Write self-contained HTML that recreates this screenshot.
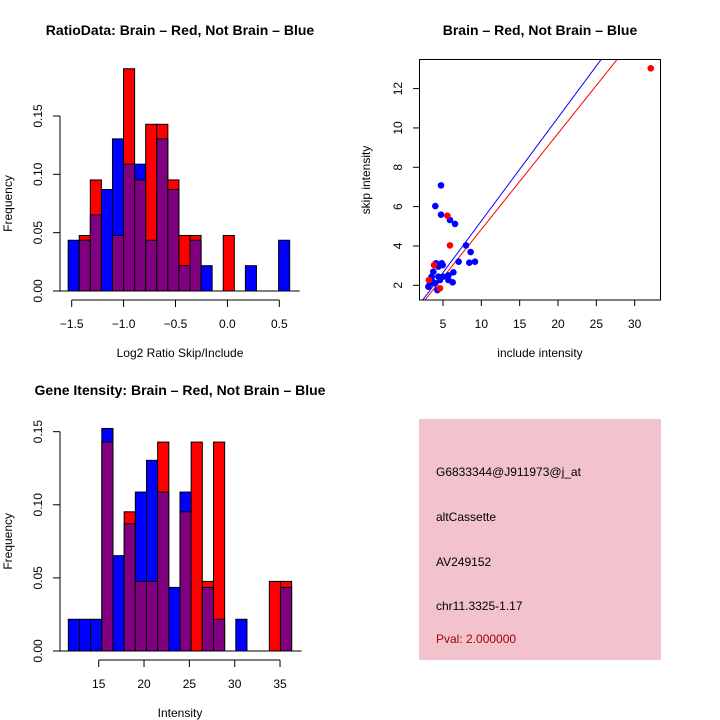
<!DOCTYPE html>
<html><head><meta charset="utf-8"><style>
body{margin:0;background:#fff}
svg{display:block;font-family:"Liberation Sans",sans-serif}
</style></head><body>
<svg id="s" width="720" height="720" xmlns="http://www.w3.org/2000/svg">
<rect width="720" height="720" fill="#fff"/>
<text x="180" y="35" font-size="14" font-weight="bold" text-anchor="middle">RatioData: Brain – Red, Not Brain – Blue</text>
<text x="540" y="35" font-size="14" font-weight="bold" text-anchor="middle">Brain – Red, Not Brain – Blue</text>
<text x="180" y="395" font-size="14" font-weight="bold" text-anchor="middle">Gene Itensity: Brain – Red, Not Brain – Blue</text>
<g id="g1"></g>
<g id="g2"></g>
<g id="g3"></g>
<g>
<rect x="419" y="419" width="242" height="241" fill="#f3c3cd"/>
<text x="436" y="476" font-size="12">G6833344@J911973@j_at</text>
<text x="436" y="521" font-size="12">altCassette</text>
<text x="436" y="566" font-size="12">AV249152</text>
<text x="436" y="610" font-size="12">chr11.3325-1.17</text>
<text x="436" y="643" font-size="12" fill="#a00000">Pval: 2.000000</text>
</g>
</svg>
<script>
const ratioRed=[0,0.0476,0.0952,0,0.0476,0.1905,0.0952,0.1429,0.1429,0.0952,0.0476,0.0476,0,0,0.0476,0,0,0,0,0];
const ratioBlue=[0.0435,0.0435,0.0652,0.087,0.1304,0.1087,0.1087,0.0435,0.1304,0.087,0.0217,0.0435,0.0217,0,0,0,0.0217,0,0,0.0435];
const ratioXTicks=[-1.5,-1.0,-0.5,0.0,0.5];
const ratioXLabels=["−1.5","−1.0","−0.5","0.0","0.5"];
const freqTicks=[0,0.05,0.10,0.15];
const freqLabels=["0.00","0.05","0.10","0.15"];
const intRed=[0,0,0,0.1429,0,0.0952,0.0476,0.0476,0.1429,0,0.0952,0.1429,0.0476,0.1429,0,0,0,0,0.0476,0.0476];
const intBlue=[0.0217,0.0217,0.0217,0.1522,0.0652,0.087,0.1087,0.1304,0.1087,0.0435,0.1087,0,0.0435,0.0217,0,0.0217,0,0,0,0.0435];
const intXTicks=[15,20,25,30,35];
const redX=[32.1,5.57,5.91,3.83,3.17,4.6];
const redY=[13.03,5.54,4.03,3.03,2.27,1.85];
const blueX=[4.74,4.0,4.74,5.91,6.57,8.0,8.6,7.04,8.43,9.17,6.35,6.26,5.7,5.7,3.09,3.52,3.74,4.09,4.83,4.4,4.96,4.26,4.6,3.96,3.3,4.4,5.0,3.52];
const blueY=[7.08,6.03,5.59,5.32,5.12,4.03,3.69,3.2,3.15,3.2,2.66,2.15,2.27,2.5,1.93,2.44,2.69,3.12,3.12,2.95,3.03,1.76,2.27,2.1,2.1,2.44,2.44,2.27];
const scXTicks=[5,10,15,20,25,30];
const scYTicks=[2,4,6,8,10,12];
const blueFit=[0.015,0.5255];
const redFit=[-0.04,0.488];
const NS="http://www.w3.org/2000/svg";
function mk(p,t,a){const e=document.createElementNS(NS,t);for(const k in a)e.setAttribute(k,a[k]);p.appendChild(e);return e;}
function hist(g,red,blue,x0,x1,xs,ys,xt,xl,yTop,xlabel,labelY){
  const n=red.length,w=(x1-x0)/n;
  for(let i=0;i<n;i++){
    const r=red[i],b=blue[i],a=x0+i*w;
    const hi=Math.max(r,b),lo=Math.min(r,b);
    if(hi>0){
      const e=mk(g,'rect',{x:xs(a),y:ys(hi),width:xs(a+w)-xs(a),height:ys(0)-ys(hi),fill:r>=b?'#ff0000':'#0000ff',stroke:'#000','stroke-width':1});
      
      
    }
    if(lo>0){
      const e=mk(g,'rect',{x:xs(a),y:ys(lo),width:xs(a+w)-xs(a),height:ys(0)-ys(lo),fill:'#800080',stroke:'#000','stroke-width':1});
      
      
    }
  }
  mk(g,'line',{x1:xs(x0)-15,x2:xs(x1)+10,y1:ys(0),y2:ys(0),stroke:'#000'});
  mk(g,'line',{x1:xs(xt[0]),x2:xs(xt[xt.length-1]),y1:labelY,y2:labelY,stroke:'#000'});
  xt.forEach((v,i)=>{mk(g,'line',{x1:xs(v),x2:xs(v),y1:labelY,y2:labelY+7,stroke:'#000'});
    const t=mk(g,'text',{x:xs(v),y:labelY+28,'font-size':12,'text-anchor':'middle'});t.textContent=xl[i];
    
    });
  mk(g,'line',{x1:60,x2:60,y1:ys(0),y2:ys(0.15),stroke:'#000'});
  freqTicks.forEach((v,i)=>{mk(g,'line',{x1:53,x2:60,y1:ys(v),y2:ys(v),stroke:'#000'});
    const t=mk(g,'text',{x:0,y:0,'font-size':12,'text-anchor':'middle',transform:'translate(42,'+ys(v)+') rotate(-90)'});t.textContent=freqLabels[i];
    
    });
  const yl=mk(g,'text',{'font-size':12,'text-anchor':'middle',transform:'translate(12,'+(ys(0)+ys(0.15))/2+') rotate(-90)'});yl.textContent='Frequency';
  
  
  const xL=mk(g,'text',{x:xlabel==='Intensity'?180:180,y:labelY+57,'font-size':12,'text-anchor':'middle'});xL.textContent=xlabel;
  
  
}
// ratio histogram
{const xs=v=>71.7+(v+1.5)*103.8, ys=v=>291-v*1166.7;
 hist(document.getElementById('g1'),ratioRed,ratioBlue,-1.534,0.6,xs,ys,ratioXTicks,ratioXLabels,0.15,'Log2 Ratio Skip/Include',300);}
// intensity histogram
{const xs=v=>98.7+(v-15)*9.067, ys=v=>651-v*1462.2;
 hist(document.getElementById('g3'),intRed,intBlue,11.65,36.28,xs,ys,intXTicks,intXTicks.map(String),0.15,'Intensity',660);}
// scatter
{const g=document.getElementById('g2');
 const xs=v=>443+(v-5)*7.667, ys=v=>285.3-(v-2)*19.67;
 mk(g,'defs',{}).innerHTML='<clipPath id="cp"><rect x="419.5" y="59.5" width="241" height="240.5"/></clipPath>';
 const cg=mk(g,'g',{'clip-path':'url(#cp)'});
 [[blueFit,'#0000ff'],[redFit,'#ff0000']].forEach(([f,c])=>{const xa=0,xb=40;
   const l=mk(cg,'line',{x1:xs(xa),y1:ys(f[0]+f[1]*xa),x2:xs(xb),y2:ys(f[0]+f[1]*xb),stroke:c,'stroke-width':1});
   
   });
 blueX.forEach((v,i)=>{const c=mk(cg,'circle',{cx:xs(v),cy:ys(blueY[i]),r:3.3,fill:'#0000ff'});
   
   });
 redX.forEach((v,i)=>{const c=mk(cg,'circle',{cx:xs(v),cy:ys(redY[i]),r:3.3,fill:'#ff0000'});
   
   });
 mk(g,'rect',{x:419.5,y:59.5,width:241,height:240.5,fill:'none',stroke:'#000'});
 scXTicks.forEach(v=>{mk(g,'line',{x1:xs(v),x2:xs(v),y1:300,y2:306,stroke:'#000'});
   const t=mk(g,'text',{x:xs(v),y:328,'font-size':12,'text-anchor':'middle'});t.textContent=v;
   
   });
 scYTicks.forEach(v=>{mk(g,'line',{x1:413,x2:419.5,y1:ys(v),y2:ys(v),stroke:'#000'});
   const t=mk(g,'text',{'font-size':12,'text-anchor':'middle',transform:'translate(402,'+ys(v)+') rotate(-90)'});t.textContent=v;
   
   });
 const xl=mk(g,'text',{x:540,y:357,'font-size':12,'text-anchor':'middle'});xl.textContent='include intensity';
 
 
 const yl=mk(g,'text',{'font-size':12,'text-anchor':'middle',transform:'translate(370,180) rotate(-90)'});yl.textContent='skip intensity';
 
 
}
</script>
</body></html>
